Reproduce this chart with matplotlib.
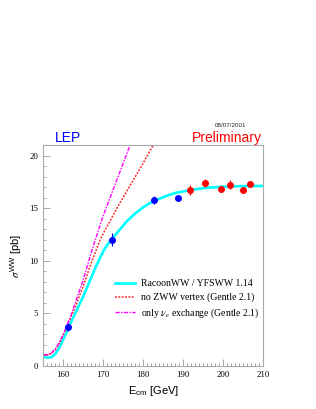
import matplotlib
matplotlib.use("Agg")
import matplotlib.pyplot as plt
from matplotlib.ticker import MultipleLocator

# ---- data ----
e_lep1 = [161.3, 172.1, 182.7, 188.6]
s_lep1 = [3.7, 12.0, 15.8, 16.0]
err_lep1 = [0.4, 0.6, 0.4, 0.25]

e_lep2 = [191.6, 195.5, 199.5, 201.6, 204.9, 206.6]
s_lep2 = [16.75, 17.4, 16.85, 17.25, 16.7, 17.3]
err_lep2 = [0.45, 0.35, 0.3, 0.45, 0.3, 0.25]

e_racoon = [155, 156, 157, 158, 159, 160, 161, 162, 163, 164, 165, 166, 167, 168,
            169, 170, 171, 172, 174, 176, 178, 180, 182, 184, 186, 188, 190, 193,
            196, 200, 205, 210]
s_racoon = [0.85, 0.75, 0.8, 1.1, 1.7, 2.5, 3.3, 4.2, 5.0, 5.8, 6.6, 7.5, 8.4, 9.3,
            10.1, 10.9, 11.5, 12.0, 12.9, 13.8, 14.5, 15.1, 15.55, 15.9, 16.2, 16.45,
            16.6, 16.8, 16.95, 17.05, 17.1, 17.12]

e_nozww = [155, 156, 157, 158, 159, 160, 161, 162, 163, 164, 165, 166, 167, 168,
           169, 170, 172, 174, 176, 178, 180, 182.6]
s_nozww = [1.0, 1.0, 1.15, 1.5, 2.1, 2.9, 3.8, 4.7, 5.6, 6.6, 7.6, 8.7, 9.8, 10.8,
           11.8, 12.6, 14.0, 15.4, 16.7, 18.0, 19.3, 21.1]

e_nue = [155, 156, 157, 158, 159, 160, 161, 162, 163, 164, 165, 166, 167, 168,
         170, 172.5, 175, 176.8]
s_nue = [1.05, 1.05, 1.2, 1.6, 2.2, 3.0, 3.9, 4.9, 6.0, 7.1, 8.2, 9.5, 10.8, 12.0,
         14.3, 16.8, 19.3, 21.1]

legend_labels = ["RacoonWW / YFSWW 1.14",
                 "no ZWW vertex (Gentle 2.1)",
                 r"only $\nu_e$ exchange (Gentle 2.1)"]

plt.rcParams['mathtext.fontset'] = 'stix'

fig = plt.figure(figsize=(3.16, 4.09), dpi=100)
ax = fig.add_axes([0.137, 0.106, 0.696, 0.539])

l1, = ax.plot(e_racoon, s_racoon, color='#00ffff', lw=1.9, zorder=2)
l2, = ax.plot(e_nozww, s_nozww, color='#ff2020', lw=1.1, ls=(0, (1.2, 1.0)), zorder=2)
l3, = ax.plot(e_nue, s_nue, color='#ff00ff', lw=1.0, ls=(0, (3, 1, 1, 1)), zorder=2)

ax.errorbar(e_lep1, s_lep1, yerr=err_lep1, fmt='o', color='#0000ff', ms=4,
            elinewidth=0.8, capsize=0, zorder=3)
ax.errorbar(e_lep2, s_lep2, yerr=err_lep2, fmt='o', color='#ff0000', ms=4,
            elinewidth=0.8, capsize=0, zorder=3)

ax.set_xlim(155, 210)
ax.set_ylim(0, 21)
ax.xaxis.set_major_locator(MultipleLocator(10))
ax.xaxis.set_minor_locator(MultipleLocator(1))
ax.yaxis.set_major_locator(MultipleLocator(5))
ax.yaxis.set_minor_locator(MultipleLocator(1))
ax.tick_params(which='both', direction='in', color='#999999', labelsize=6.3,
               top=False, right=False)
ax.tick_params(which='major', length=5, width=0.6)
ax.tick_params(which='minor', length=2.2, width=0.6)
for lab in ax.get_xticklabels() + ax.get_yticklabels():
    lab.set_fontfamily('Liberation Serif')
for sp in ax.spines.values():
    sp.set_color('#aaaaaa')
    sp.set_linewidth(0.8)

ax.set_xlabel(r"E$_{\mathregular{cm}}$ [GeV]", fontsize=8, family='Liberation Sans')
ax.set_ylabel(r"$\sigma^{\mathregular{WW}}$ [pb]", fontsize=8, family='Liberation Sans')

leg = ax.legend([l1, l2, l3], legend_labels, loc='lower right',
                bbox_to_anchor=(1.01, 0.18), frameon=False,
                prop={'family': 'Liberation Serif', 'size': 7},
                handlelength=2.0, handletextpad=0.7, labelspacing=0.45,
                borderaxespad=0.2)

fig.text(0.175, 0.662, "LEP", color='#0000ff', fontsize=10, family='Liberation Sans',
         va='center', ha='left')
fig.text(0.83, 0.662, "Preliminary", color='#ff0000', fontsize=10,
         family='Liberation Sans', va='center', ha='right')
fig.text(0.728, 0.694, "08/07/2001", color='#222222', fontsize=4.5,
         family='Liberation Sans', va='center', ha='center')

fig.savefig("out.png", dpi=100)
